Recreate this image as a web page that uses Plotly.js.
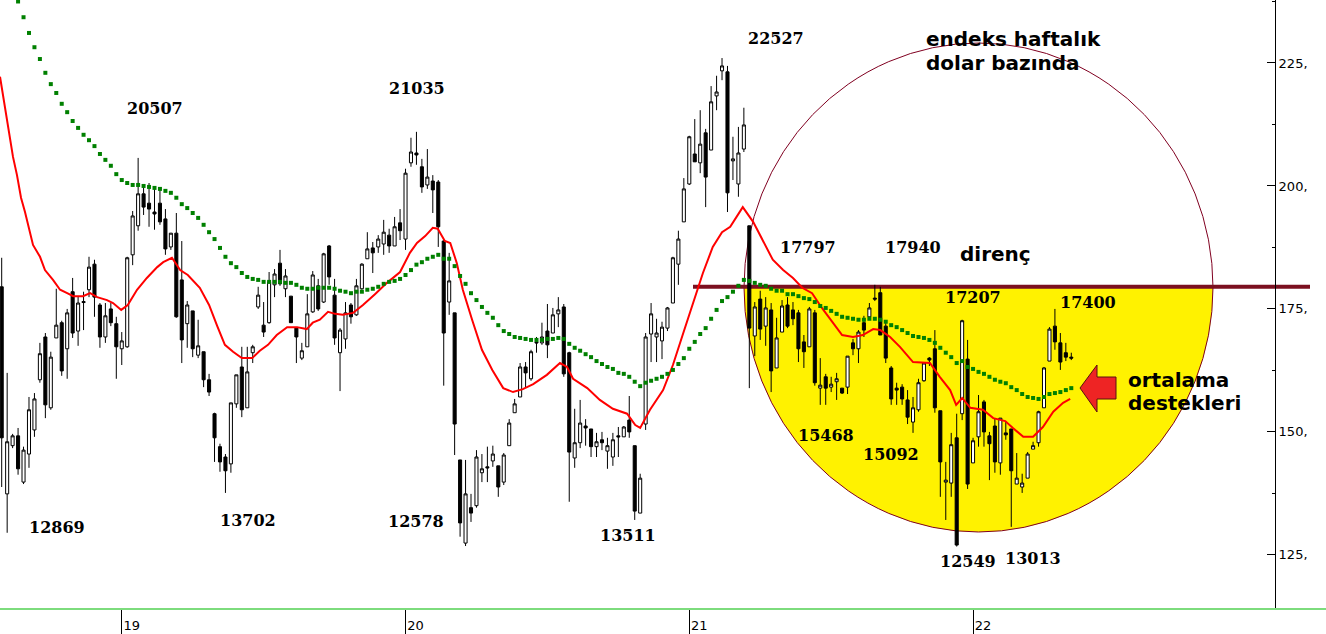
<!DOCTYPE html>
<html><head><meta charset="utf-8">
<script src="https://cdn.plot.ly/plotly-3.0.1.min.js"></script>
<style>html,body{margin:0;padding:0;background:#fff}#chart{width:1326px;height:634px}</style>
</head><body><div id="chart"></div><script>
// ---- data (weekly candles, index 0 = week of 2018-08-06) ----
const firstWeek = '2018-08-06';
const openP = [
179.5,137.4,147.2,149.2,139.8,145.5,150.4,160.6,169.3,154.9,
169.1,172.2,166.9,178.5,170.5,176.5,178.9,184.1,175.8,169.3,
175.0,172.0,166.9,167.3,186.0,191.9,198.4,196.5,194.7,196.5,
193.3,187.6,190.4,180.9,172.0,174.6,165.6,166.3,160.6,153.7,
147.0,144.9,143.5,155.7,163.2,154.9,166.1,175.4,171.7,172.2,
179.9,184.3,179.1,177.6,171.1,165.0,167.3,174.4,179.7,176.4,
187.8,177.8,166.1,168.9,175.8,173.8,179.1,185.2,187.4,187.6,
188.2,190.0,187.8,192.5,189.2,204.7,206.7,203.9,200.2,201.0,
200.8,188.8,176.4,174.2,144.3,127.4,134.6,135.0,141.7,142.9,
144.1,143.1,139.8,147.2,153.9,157.1,163.2,160.8,168.3,168.1,
170.5,170.1,174.0,175.4,166.1,144.7,147.8,151.2,150.6,147.0,
148.4,146.1,144.9,149.2,149.0,152.4,147.2,133.5,151.6,169.9,
169.3,168.5,171.1,176.2,184.1,192.7,200.4,206.5,204.7,210.8,
207.3,218.3,223.4,223.2,205.1,200.4,207.5,191.9,169.5,177.0,
171.5,174.8,163.0,170.3,175.8,174.8,174.2,168.3,167.3,174.2,
158.9,161.2,159.1,160.2,158.9,159.1,168.1,166.9,172.2,173.4,
177.2,178.3,171.5,163.0,158.9,159.1,156.5,152.0,154.5,160.4,
165.0,166.9,154.3,139.8,139.6,148.8,153.7,164.8,143.7,149.0,
156.1,149.2,151.2,143.7,149.8,150.6,139.4,138.8,140.6,146.5,
147.8,154.9,164.4,171.5,168.1,166.1,165.2];
const highP = [
185.4,162.0,149.6,150.8,147.0,157.1,157.9,168.1,170.1,166.3,
179.1,172.6,175.0,181.3,177.6,178.5,185.6,185.0,176.2,176.2,
176.2,173.4,170.3,185.6,194.9,205.7,200.2,200.6,199.8,199.4,
195.3,190.4,194.5,188.8,176.6,174.6,172.8,166.3,161.8,153.9,
147.6,145.5,155.9,161.6,167.3,167.3,167.7,179.5,176.4,182.5,
183.1,187.0,183.1,177.6,171.3,168.1,178.0,182.7,181.1,186.4,
188.0,181.1,171.1,176.4,176.2,181.1,184.3,190.6,188.6,190.0,
193.1,191.3,193.7,195.3,203.5,209.8,211.0,205.5,207.5,202.2,
201.2,189.0,186.4,174.2,144.3,144.3,137.4,146.3,145.5,147.0,
147.2,143.1,145.7,152.6,156.7,164.0,164.2,166.7,169.3,172.2,
176.0,175.2,177.4,176.0,166.3,154.7,156.5,152.6,150.6,149.8,
150.0,148.8,149.8,151.0,151.2,157.3,147.2,141.5,170.1,176.2,
173.0,172.4,175.4,185.6,190.9,201.6,210.2,213.6,215.4,211.6,
220.3,222.4,226.0,224.4,210.0,212.0,215.9,191.9,176.4,178.7,
177.4,176.2,173.2,176.8,177.4,176.4,174.8,169.7,175.4,174.8,
165.0,161.8,161.2,162.0,158.9,165.4,168.9,170.7,173.6,176.2,
179.9,179.5,172.2,163.4,160.0,159.7,158.5,157.1,160.8,164.2,
165.2,170.7,154.3,143.9,149.8,153.7,172.8,168.7,148.8,157.5,
156.5,150.0,152.8,152.8,152.2,150.6,145.7,141.5,145.9,148.0,
154.3,163.2,171.3,175.0,170.1,168.1,166.1];
const lowP = [
138.8,129.5,146.7,141.3,139.4,142.7,149.0,160.0,152.8,154.5,
169.1,161.4,160.8,169.1,167.5,170.7,177.4,173.4,167.1,168.1,
171.5,160.8,163.6,167.1,183.9,190.9,194.1,191.7,191.1,192.1,
186.0,187.0,173.2,164.0,167.1,165.2,165.0,159.1,157.3,143.9,
141.9,137.6,141.7,154.9,153.0,154.9,164.0,175.0,169.3,172.0,
177.4,179.7,177.4,172.2,164.0,164.6,167.3,174.2,174.6,176.2,
179.9,167.7,158.3,166.9,172.0,173.6,178.9,185.2,182.3,186.4,
186.0,186.4,187.8,189.0,187.0,203.9,204.3,198.6,199.4,194.5,
187.6,159.4,173.8,145.3,128.7,126.8,131.7,134.6,139.8,139.8,
142.9,136.8,139.2,147.2,153.9,157.1,159.1,160.4,166.1,167.7,
165.0,170.1,171.3,161.2,135.8,142.7,146.7,147.2,144.9,144.9,
146.3,142.5,143.1,144.9,149.0,148.8,132.1,133.5,150.4,164.2,
164.2,164.8,170.5,176.2,179.9,192.7,200.2,204.9,202.6,195.7,
207.3,215.4,221.5,194.7,201.2,197.8,206.9,158.9,165.4,168.7,
167.5,158.1,163.0,170.3,171.1,171.7,164.2,163.0,167.3,159.4,
155.5,155.5,158.1,156.5,157.7,157.7,165.6,164.0,169.3,173.4,
176.6,169.7,164.0,155.5,155.5,155.5,151.6,149.8,154.1,160.2,
163.4,153.9,136.8,132.1,136.8,126.7,152.4,138.4,143.7,147.0,
147.0,140.2,141.7,141.3,148.4,130.7,139.4,137.6,140.6,146.5,
147.0,154.9,164.4,166.7,162.6,164.4,164.6];
const closeP = [
148.8,148.0,149.2,142.5,146.3,154.5,156.7,165.9,155.5,165.2,
171.7,162.4,174.2,170.1,176.2,176.3,183.5,177.4,169.3,173.6,
172.2,167.3,168.5,185.4,193.9,198.4,195.7,195.3,194.3,192.7,
187.2,190.4,173.4,168.7,175.8,166.9,167.5,160.6,158.1,148.8,
143.9,142.1,155.9,161.6,154.5,162.2,167.3,177.8,170.3,180.5,
182.1,180.1,181.7,172.2,169.3,166.5,174.0,181.9,175.0,186.2,
181.5,169.1,170.7,174.2,173.4,179.7,184.1,187.2,186.4,189.2,
190.6,187.8,191.7,190.9,202.6,206.9,206.3,199.8,201.8,199.2,
191.7,170.1,180.7,151.6,131.5,137.4,133.5,144.9,142.5,142.7,
145.5,138.8,145.3,151.8,155.7,163.2,162.0,166.3,168.1,169.3,
167.7,173.8,174.8,161.8,145.9,147.8,151.8,150.8,147.0,148.0,
147.8,147.2,148.4,149.0,151.0,150.0,133.9,140.6,169.3,174.0,
170.1,171.3,175.2,185.4,189.2,199.4,210.0,204.9,208.5,201.8,
217.1,219.1,224.4,198.6,205.5,206.7,212.4,171.1,175.4,170.9,
175.2,162.4,169.1,175.6,171.5,173.0,166.9,166.3,175.0,160.0,
159.5,158.9,159.7,160.8,157.9,165.4,166.9,170.3,170.7,175.2,
177.0,169.7,165.0,156.7,158.5,156.7,153.0,154.9,160.0,164.0,
164.6,154.9,143.9,140.2,147.4,127.0,172.6,139.4,148.2,154.1,
150.0,147.6,143.9,152.8,149.4,142.1,140.6,139.6,145.5,147.2,
154.1,163.0,170.9,168.3,164.2,165.2,165.0];

// short moving average (red), sampled at week positions
const redWeek = [
-0.31,0.29,0.97,1.52,2.07,2.80,3.54,4.27,5.74,7.02,
7.93,9.4,10.7,12.0,13.1,14.9,16.2,17.5,19.3,20.4,
21.9,23.1,24.8,26.6,28.5,29.6,31.2,32.7,34.1,36.3,
38.0,39.5,40.9,42.4,44.0,45.9,47.3,48.8,50.4,52.3,
54.1,55.9,57.0,58.3,59.8,61.1,62.5,64.4,66.2,68.4,
70.6,73.0,74.8,76.1,77.6,79.0,79.9,81.2,82.2,83.4,
84.5,86.2,88.0,89.9,91.9,93.7,95.5,97.4,99.9,102.3,
103.6,104.7,107.3,109.6,112.0,114.6,116.1,117.0,118.8,121.2,
123.0,124.9,126.7,128.5,130.3,132.0,133.5,135.8,137.7,139.5,
141.3,143.2,145.0,146.7,148.5,150.3,152.3,154.0,156.0,157.8,
159.7,161.0,162.8,164.6,167.0,170.1,171.9,173.8,174.9,176.0,
177.5,179.8,181.7,183.9,185.3,187.2,189.0,190.8,192.7,194.5,
195.8];
const redVal = [
222.2,218.1,214.0,210.0,205.9,202.2,197.6,194.7,188.0,185.6,
182.9,180.9,178.9,178.2,177.6,177.6,178.2,177.4,176.8,176.2,
174.8,175.8,178.9,181.3,183.5,184.5,185.4,182.9,181.9,179.3,
175.8,171.5,167.7,166.3,165.0,165.0,166.5,167.7,169.7,171.3,
171.3,170.9,172.2,172.8,174.4,174.0,173.8,174.2,175.8,178.0,
180.3,182.5,186.4,188.4,189.8,191.5,191.3,188.8,188.4,184.3,
178.9,172.8,166.7,162.6,158.9,158.1,158.7,159.7,161.6,164.0,
163.2,160.8,158.9,156.5,154.7,153.7,151.4,150.8,154.5,158.5,
163.6,170.1,176.2,182.3,187.6,190.6,191.7,195.7,192.7,189.0,
185.0,182.9,181.3,179.3,178.2,175.2,172.2,169.7,169.3,169.7,
170.9,170.7,169.3,167.3,164.2,164.0,161.2,158.5,155.5,156.9,
154.9,154.5,152.8,152.2,150.8,149.0,149.0,151.0,154.1,155.9,
156.7];

// long moving average (green dots), one value per week from week 3
const greenFirstWeek = 3;
const greenVal = [
237.5,234.3,231.1,228.2,225.8,223.0,220.7,218.9,216.7,215.0,
213.2,211.8,210.4,209.3,208.1,206.5,205.3,204.1,202.4,201.2,
200.6,200.2,200.2,200.0,199.8,199.6,199.4,199.0,198.6,197.6,
196.3,195.5,194.5,193.5,192.1,190.6,189.2,187.4,185.6,184.3,
183.5,182.3,181.5,181.1,180.9,180.5,180.5,180.5,180.5,180.3,
180.3,179.9,179.3,179.1,179.1,179.3,179.3,179.3,179.1,178.7,
178.5,178.2,178.5,178.5,178.9,179.1,179.5,180.1,180.5,180.7,
181.1,181.9,182.9,184.0,184.5,185.2,185.6,186.0,185.2,185.2,
183.7,181.7,180.1,178.2,176.8,175.4,174.2,173.2,171.7,170.5,
169.9,169.3,169.1,168.9,168.7,168.7,168.7,168.9,168.9,169.1,
168.9,167.9,167.1,166.5,165.8,165.2,164.4,163.8,163.2,162.8,
162.0,161.8,161.2,160.2,159.3,160.0,160.4,160.8,161.2,161.8,
162.6,163.8,165.0,166.9,168.3,169.9,171.1,173.0,174.8,176.6,
177.4,178.5,179.7,180.9,180.7,180.3,179.9,179.7,179.1,178.7,
178.7,178.0,178.0,177.6,177.2,177.0,176.4,175.6,175.2,174.6,
174.0,173.4,173.2,173.0,172.8,172.8,173.0,173.0,172.8,172.4,
171.7,171.3,170.7,170.1,169.5,169.3,169.1,168.7,168.1,167.1,
166.1,165.2,164.0,164.4,163.2,162.8,162.2,161.8,161.2,160.6,
160.2,159.9,159.1,158.5,157.7,157.1,156.9,156.7,157.1,157.7,
157.9,158.1,158.5,158.9];

const yearWeeks = [22, 74, 126, 178];
const yearLabels = ['19', '20', '21', '22'];
const resistance = 179.5;

const pointLabels = ['12869','20507','13702','21035','12578','13511','22527',
  '17797','17940','15468','15092','17207','17400','12549','13013'];

// ---- helpers ----
const T0 = Date.parse(firstWeek + 'T00:00:00Z');
const WEEK = 7 * 864e5;
function wk(i) { return new Date(T0 + i * WEEK).toISOString().slice(0, 19).replace('T', ' '); }
const dates = openP.map((_, i) => wk(i));

// plot area in pixels (for decorations)
const W = 1275, H = 609;
const PX = x => x / W, PY = y => 1 - y / H;

const traces = [
  {
    type: 'candlestick', x: dates, open: openP, high: highP, low: lowP, close: closeP,
    increasing: { line: { color: '#000', width: 1 }, fillcolor: '#ffffff' },
    decreasing: { line: { color: '#000', width: 1 }, fillcolor: '#000000' },
    whiskerwidth: 0, showlegend: false, hoverinfo: 'skip'
  },
  {
    type: 'scatter', mode: 'lines', x: redWeek.map(wk), y: redVal,
    line: { color: '#ff0000', width: 2 }, showlegend: false, hoverinfo: 'skip'
  },
  {
    type: 'scatter', mode: 'markers', x: greenVal.map((_, k) => wk(greenFirstWeek + k)), y: greenVal,
    marker: { symbol: 'square', size: 4, color: '#008000', line: { width: 0 } },
    showlegend: false, hoverinfo: 'skip'
  }
];

// circle (ellipse in pixels) and its yellow lower half
const cx = PX(978.5), cy = PY(287.5), rx = 234.5 / W, ry = 244.5 / H, k = 0.5523;
const halfPath = `M ${cx - rx},${cy} C ${cx - rx},${cy - k * ry} ${cx - k * rx},${cy - ry} ${cx},${cy - ry} ` +
  `C ${cx + k * rx},${cy - ry} ${cx + rx},${cy - k * ry} ${cx + rx},${cy} Z`;
const arrowPts = [[1080, 388], [1097, 365], [1097, 377], [1116, 377], [1116, 399], [1097, 399], [1097, 412]];
const arrowPath = 'M ' + arrowPts.map(p => PX(p[0]) + ',' + PY(p[1])).join(' L ') + ' Z';

const shapes = [
  { type: 'path', xref: 'paper', yref: 'paper', path: halfPath, fillcolor: '#fff200', line: { width: 0 }, layer: 'below' },
  { type: 'circle', xref: 'paper', yref: 'paper', x0: cx - rx, x1: cx + rx, y0: cy - ry, y1: cy + ry,
    line: { color: '#800020', width: 1 }, layer: 'below' },
  { type: 'line', xref: 'paper', yref: 'y', x0: PX(693), x1: PX(1310), y0: resistance, y1: resistance,
    line: { color: '#7b1020', width: 4 }, layer: 'below' },
  { type: 'line', xref: 'paper', yref: 'paper', x0: 0, x1: 1326 / W, y0: 0, y1: 0,
    line: { color: '#7ddc7d', width: 2 }, layer: 'above' },
  { type: 'path', xref: 'paper', yref: 'paper', path: arrowPath, fillcolor: '#ee2424',
    line: { color: '#5a1010', width: 1 }, layer: 'above' }
];

const labelPos = [[57,527],[155,108],[248,520],[417,88],[416,521],[628,535],[776,38],
  [808,248],[913,247],[826,435],[891,454],[973,297],[1088,303],[968,561],[1033,558]];
const serif = { family: 'DejaVu Serif', size: 16, color: '#000', weight: 'bold' };
const sansB = { family: 'DejaVu Sans', size: 20, color: '#000', weight: 'bold' };
const annotations = pointLabels.map((t, i) => ({
  xref: 'paper', yref: 'paper', x: PX(labelPos[i][0]), y: PY(labelPos[i][1]),
  text: t, showarrow: false, xanchor: 'center', yanchor: 'middle', font: serif
})).concat([
  { xref: 'paper', yref: 'paper', x: PX(924), y: PY(39), text: 'endeks haftalık', showarrow: false, xanchor: 'left', yanchor: 'middle', font: sansB },
  { xref: 'paper', yref: 'paper', x: PX(924), y: PY(63), text: 'dolar bazında', showarrow: false, xanchor: 'left', yanchor: 'middle', font: sansB },
  { xref: 'paper', yref: 'paper', x: PX(995), y: PY(254), text: 'direnç', showarrow: false, xanchor: 'center', yanchor: 'middle', font: sansB },
  { xref: 'paper', yref: 'paper', x: PX(1126), y: PY(380), text: 'ortalama', showarrow: false, xanchor: 'left', yanchor: 'middle', font: sansB },
  { xref: 'paper', yref: 'paper', x: PX(1126), y: PY(403), text: 'destekleri', showarrow: false, xanchor: 'left', yanchor: 'middle', font: sansB }
]);

const layout = {
  width: 1326, height: 634,
  margin: { l: 0, r: 51, t: 0, b: 25, pad: 0 },
  paper_bgcolor: '#ffffff', plot_bgcolor: '#ffffff',
  showlegend: false, boxgap: 0.2,
  xaxis: {
    type: 'date', range: [wk(-0.3115), wk(233.33)],
    tickmode: 'array', tickvals: yearWeeks.map(wk), ticktext: yearLabels,
    ticks: 'outside', ticklen: 24, tickwidth: 1, tickcolor: '#000',
    ticklabelshift: 10, ticklabelstandoff: -20,
    tickfont: { family: 'DejaVu Sans', size: 13, color: '#000' },
    showgrid: false, zeroline: false, showline: false,
    rangeslider: { visible: false }, fixedrange: true
  },
  yaxis: {
    side: 'right', range: [114.0, 237.8],
    tickmode: 'linear', tick0: 0, dtick: 25, ticksuffix: ',',
    ticks: 'inside', ticklen: 8, tickwidth: 1, tickcolor: '#000',
    minor: { ticks: 'inside', ticklen: 3, tickcolor: '#000', dtick: 12.5, tick0: 0, showgrid: false },
    tickfont: { family: 'DejaVu Sans', size: 13, color: '#000' },
    showgrid: false, zeroline: false, showline: true, linecolor: '#000', linewidth: 1,
    fixedrange: true
  },
  shapes: shapes,
  annotations: annotations
};

Plotly.newPlot('chart', traces, layout, { displayModeBar: false, staticPlot: true });
</script></body></html>
